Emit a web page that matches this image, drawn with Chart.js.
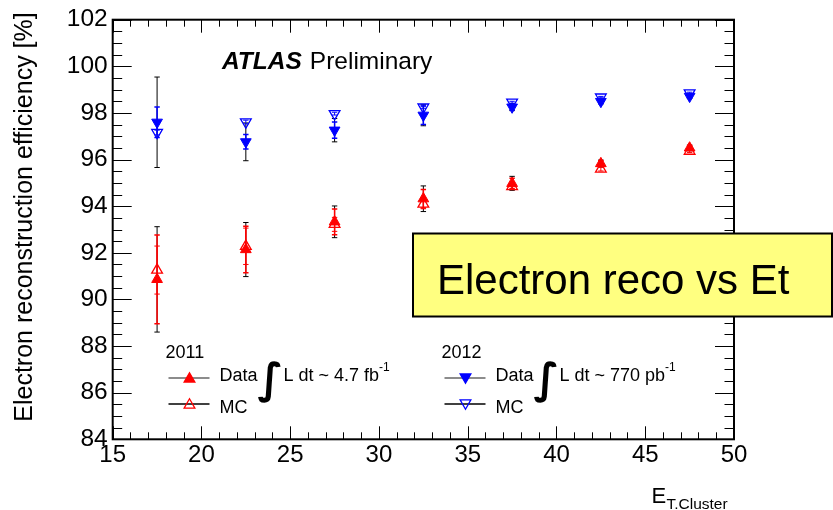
<!DOCTYPE html>
<html>
<head>
<meta charset="utf-8">
<script src="https://cdn.jsdelivr.net/npm/chart.js@4.4.1/dist/chart.umd.min.js"></script>
<style>
  html, body { margin: 0; padding: 0; background: #fff; }
</style>
</head>
<body>
<canvas id="chart" width="833" height="510"></canvas>
<script>
// E_T bin centres [GeV]
var etBins = [17.5, 22.5, 27.5, 32.5, 37.5, 42.5, 47.5];

// 2011 (4.7 fb-1) reconstruction efficiency [%]
var data2011 = [90.86, 92.14, 93.33, 94.32, 94.98, 95.83, 96.50];
var data2011Stat = [1.90, 1.00, 0.55, 0.40, 0.22, 0.12, 0.10];
var data2011Tot = [2.26, 1.16, 0.68, 0.55, 0.30, 0.15, 0.12];
var mc2011 = [91.26, 92.28, 93.22, 94.09, 94.84, 95.59, 96.36];
var mc2011Err = [1.03, 0.78, 0.30, 0.20, 0.12, 0.08, 0.06];

// 2012 (770 pb-1)
var data2012 = [97.60, 96.76, 97.26, 97.90, 98.25, 98.49, 98.71];
var data2012Stat = [0.65, 0.31, 0.35, 0.40, 0.12, 0.08, 0.06];
var data2012Tot = [1.94, 0.81, 0.50, 0.45, 0.15, 0.10, 0.08];
var mc2012 = [97.16, 97.61, 97.97, 98.25, 98.46, 98.68, 98.86];
var mc2012Err = [0.10, 0.08, 0.06, 0.05, 0.04, 0.03, 0.03];

var xTicks = [15, 20, 25, 30, 35, 40, 45, 50];
var yTicks = [84, 86, 88, 90, 92, 94, 96, 98, 100, 102];

var FONT = '"Liberation Sans", Arial, Helvetica, sans-serif';
var RED = '#ff0000';
var BLUE = '#0000ff';

function toPoints(vals) {
  return vals.map(function (v, i) { return { x: etBins[i], y: v }; });
}

function errBars(ctx, xs, ys, vals, errs, color, width, cap) {
  ctx.save();
  ctx.strokeStyle = color;
  ctx.lineWidth = width;
  ctx.beginPath();
  for (var i = 0; i < vals.length; i++) {
    var px = xs.getPixelForValue(etBins[i]);
    var top = ys.getPixelForValue(vals[i] + errs[i]);
    var bot = ys.getPixelForValue(vals[i] - errs[i]);
    ctx.moveTo(px, top); ctx.lineTo(px, bot);
    ctx.moveTo(px - cap, top); ctx.lineTo(px + cap, top);
    ctx.moveTo(px - cap, bot); ctx.lineTo(px + cap, bot);
  }
  ctx.stroke();
  ctx.restore();
}

// triangle with the same geometry as the chart's 'triangle' point style
function tri(ctx, x, y, r, down, filled, color) {
  var s = down ? -1 : 1;
  ctx.save();
  ctx.beginPath();
  ctx.moveTo(x, y - s * r);
  ctx.lineTo(x + r * 0.866, y + s * r * 0.5);
  ctx.lineTo(x - r * 0.866, y + s * r * 0.5);
  ctx.closePath();
  if (filled) { ctx.fillStyle = color; ctx.fill(); }
  ctx.strokeStyle = color;
  ctx.lineWidth = 1.3;
  ctx.stroke();
  ctx.restore();
}

function text(ctx, str, x, y, size, opts) {
  opts = opts || {};
  ctx.save();
  ctx.font = (opts.style || '') + ' ' + size + 'px ' + (opts.family || FONT);
  ctx.fillStyle = opts.color || '#000';
  ctx.textAlign = opts.align || 'left';
  ctx.textBaseline = 'alphabetic';
  ctx.fillText(str, x, y);
  var w = ctx.measureText(str).width;
  ctx.restore();
  return w;
}

function legendRow(ctx, x, y, year, down, color, lumi, unit) {
  var lx0 = x, lx1 = x + 41, mx = x + 21;
  text(ctx, year, x - 3, y - 20, 18);
  // data entry
  ctx.save();
  ctx.strokeStyle = '#666';
  ctx.lineWidth = 1.3;
  ctx.beginPath(); ctx.moveTo(lx0, y); ctx.lineTo(lx1, y); ctx.stroke();
  ctx.restore();
  tri(ctx, mx, y + (down ? -1 : 1), 6.2, down, true, color);
  text(ctx, 'Data', x + 51, y + 2.5, 18);
  text(ctx, '\u222B', x + 89, y + 15, 42, { style: 'bold', family: '"DejaVu Sans", sans-serif' });
  var w = text(ctx, 'L dt ~ ' + lumi + ' ' + unit, x + 115, y + 2.5, 18);
  text(ctx, '-1', x + 115 + w, y - 7, 12);
  // MC entry
  var y2 = y + 26;
  ctx.save();
  ctx.strokeStyle = '#000';
  ctx.lineWidth = 1.3;
  ctx.beginPath(); ctx.moveTo(lx0, y2); ctx.lineTo(lx1, y2); ctx.stroke();
  ctx.restore();
  tri(ctx, mx, y2 + (down ? -1 : 1), 6.2, down, false, color);
  text(ctx, 'MC', x + 51, y2 + 8.5, 18);
}

var decor = {
  id: 'decor',
  beforeDatasetsDraw: function (chart) {
    var ctx = chart.ctx, xs = chart.scales.x, ys = chart.scales.y;
    errBars(ctx, xs, ys, data2011, data2011Tot, '#000', 1, 2.7);
    errBars(ctx, xs, ys, data2011, data2011Stat, RED, 1.5, 2.7);
    errBars(ctx, xs, ys, mc2011, mc2011Err, RED, 1, 2.7);
    errBars(ctx, xs, ys, data2012, data2012Tot, '#000', 1, 2.7);
    errBars(ctx, xs, ys, data2012, data2012Stat, BLUE, 1.5, 2.7);
    errBars(ctx, xs, ys, mc2012, mc2012Err, BLUE, 1, 2.7);
  },
  afterDatasetsDraw: function (chart) {
    var ctx = chart.ctx, a = chart.chartArea;
    var xs = chart.scales.x, ys = chart.scales.y;

    // inward ticks on all four sides
    ctx.save();
    ctx.strokeStyle = '#000';
    ctx.lineWidth = 1;
    ctx.beginPath();
    for (var v = xs.min; v <= xs.max; v++) {
      var px = Math.round(xs.getPixelForValue(v)) + 0.5;
      var len = v % 5 === 0 ? 13 : 7;
      ctx.moveTo(px, a.bottom); ctx.lineTo(px, a.bottom - len);
      ctx.moveTo(px, a.top); ctx.lineTo(px, a.top + len);
    }
    for (var k = 0; k <= (ys.max - ys.min) * 2; k++) {
      var py = Math.round(ys.getPixelForValue(ys.min + k * 0.5)) + 0.5;
      var l = k % 4 === 0 ? 19 : 9.5;
      ctx.moveTo(a.left, py); ctx.lineTo(a.left + l, py);
      ctx.moveTo(a.right, py); ctx.lineTo(a.right - l, py);
    }
    ctx.stroke();
    ctx.lineWidth = 2;
    ctx.strokeRect(a.left, a.top, a.right - a.left, a.bottom - a.top);
    ctx.restore();

    // axis titles
    ctx.save();
    ctx.translate(32, 217);
    ctx.rotate(-Math.PI / 2);
    text(ctx, 'Electron reconstruction efficiency [%]', 0, 0, 25, { align: 'center' });
    ctx.restore();
    text(ctx, 'E', 651.5, 502.5, 22);
    text(ctx, 'T.Cluster', 666.5, 508.5, 15.5);

    // experiment label
    var w = text(ctx, 'ATLAS', 222, 69, 24.5, { style: 'italic bold' });
    text(ctx, 'Preliminary', 222 + w + 8, 69, 24.5);

    legendRow(ctx, 168.5, 378, '2011', false, RED, '4.7', 'fb');
    legendRow(ctx, 444.5, 378, '2012', true, BLUE, '770', 'pb');
  },
  afterDraw: function (chart) {
    var ctx = chart.ctx;
    ctx.save();
    ctx.fillStyle = '#ffff80';
    ctx.fillRect(413, 233.5, 419, 83);
    ctx.strokeStyle = '#000';
    ctx.lineWidth = 2;
    ctx.strokeRect(413, 233.5, 419, 83);
    ctx.restore();
    text(ctx, 'Electron reco vs Et', 437, 294, 42);
  }
};

new Chart(document.getElementById('chart'), {
  type: 'scatter',
  data: {
    datasets: [
      { label: 'Data 2012', data: toPoints(data2012), pointStyle: 'triangle', rotation: 180,
        backgroundColor: BLUE, borderColor: BLUE, borderWidth: 1, pointRadius: 6.2 },
      { label: 'MC 2012', data: toPoints(mc2012), pointStyle: 'triangle', rotation: 180,
        backgroundColor: 'rgba(0,0,0,0)', borderColor: BLUE, borderWidth: 1.3, pointRadius: 6.2 },
      { label: 'Data 2011', data: toPoints(data2011), pointStyle: 'triangle',
        backgroundColor: RED, borderColor: RED, borderWidth: 1, pointRadius: 6.2 },
      { label: 'MC 2011', data: toPoints(mc2011), pointStyle: 'triangle',
        backgroundColor: 'rgba(0,0,0,0)', borderColor: RED, borderWidth: 1.3, pointRadius: 6.2 }
    ]
  },
  options: {
    responsive: false,
    animation: false,
    devicePixelRatio: 1,
    events: [],
    layout: { padding: { left: 0, right: 99, top: 16.7, bottom: 0 } },
    plugins: { legend: { display: false }, tooltip: { enabled: false } },
    scales: {
      x: {
        type: 'linear', min: 15, max: 50,
        afterBuildTicks: function (s) { s.ticks = xTicks.map(function (v) { return { value: v }; }); },
        afterFit: function (s) { s.height = 70.7; },
        grid: { display: false, drawTicks: false },
        border: { display: false },
        ticks: { autoSkip: false, maxRotation: 0, padding: 2, color: '#000',
                 font: { family: FONT, size: 24 } }
      },
      y: {
        type: 'linear', min: 84, max: 102,
        afterBuildTicks: function (s) { s.ticks = yTicks.map(function (v) { return { value: v }; }); },
        afterFit: function (s) { s.width = 112.7; },
        grid: { display: false, drawTicks: false },
        border: { display: false },
        ticks: { padding: 5, color: '#000', font: { family: FONT, size: 24.5 } }
      }
    }
  },
  plugins: [decor]
});
</script>
</body>
</html>
